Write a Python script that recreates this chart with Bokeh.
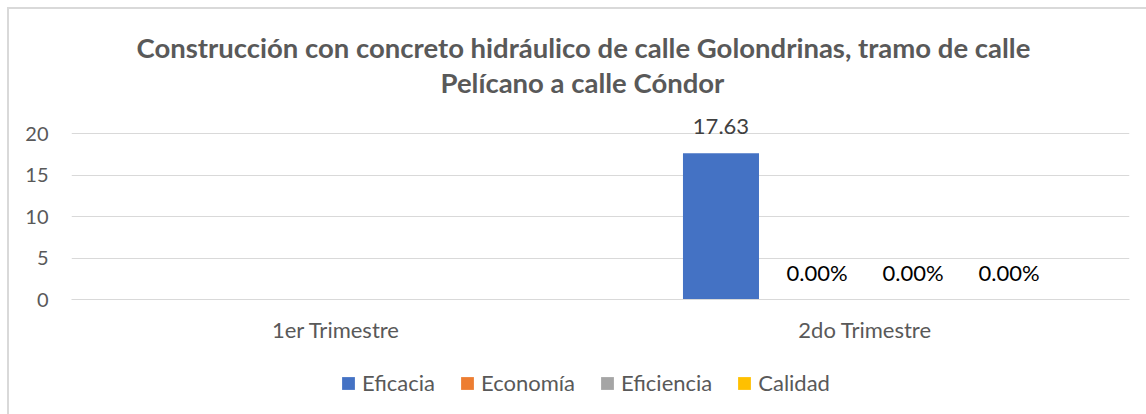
from bokeh.plotting import figure
from bokeh.models import (FactorRange, Range1d, ColumnDataSource, Legend,
                          LegendItem, FixedTicker, Title)
from bokeh.layouts import column
from bokeh.transform import dodge
from bokeh.core.properties import value
from bokeh.embed import file_html
from bokeh.resources import INLINE

# ---------------- data ----------------
categories = ["1er Trimestre", "2do Trimestre"]
series = ["Eficacia", "Economía", "Eficiencia", "Calidad"]
eficacia = [float("nan"), 17.63]
economia = [float("nan"), 0.0]
eficiencia = [float("nan"), 0.0]
calidad = [float("nan"), 0.0]
eficacia_labels = ["", "17.63"]
economia_labels = ["", "0.00%"]
eficiencia_labels = ["", "0.00%"]
calidad_labels = ["", "0.00%"]
y_ticks = [0, 5, 10, 15, 20]
title_lines = ["Construcción con concreto hidráulico de calle Golondrinas, tramo de calle",
               "Pelícano a calle Cóndor"]

colors = ["#4472C4", "#ED7D31", "#A5A5A5", "#FFC000"]
label_colors = ["#404040", "#000000", "#000000", "#000000"]

FONT = "Lato"
BORDER = "#D9D9D9"

W, H_MAIN, H_LEG = 1146, 370, 44
p = figure(width=W, height=H_MAIN, x_range=FactorRange(*categories), y_range=Range1d(0, 21.93),
           output_backend="svg", toolbar_location=None,
           min_border_left=71, min_border_right=17, min_border_top=117, min_border_bottom=71)
p.outline_line_color = None
p.background_fill_color = "white"
p.border_fill_alpha = 0
p.styles = {"background": f"linear-gradient({BORDER},{BORDER}) 7px 7px / 2px 100% no-repeat, "
                          f"linear-gradient({BORDER},{BORDER}) 7px 7px / 100% 2px no-repeat, white"}

src = ColumnDataSource(dict(cat=categories,
                            v0=eficacia, v1=economia, v2=eficiencia, v3=calidad,
                            l0=eficacia_labels, l1=economia_labels,
                            l2=eficiencia_labels, l3=calidad_labels))

slot = 0.1815
offsets = [-1.5 * slot, -0.5 * slot, 0.5 * slot, 1.5 * slot]
bar_w = 0.1437

for i, name in enumerate(series):
    p.vbar(x=dodge("cat", offsets[i], range=p.x_range), top=f"v{i}", width=bar_w,
           source=src, fill_color=colors[i], line_color=None)
    p.text(x=dodge("cat", offsets[i], range=p.x_range), y=f"v{i}", text=f"l{i}", source=src,
           text_align="center", text_baseline="alphabetic", y_offset=-27,
           text_font=value(FONT), text_font_size="22px", text_color=label_colors[i])

# axes
p.yaxis.ticker = FixedTicker(ticks=y_ticks)
p.yaxis.axis_line_color = None
p.yaxis.major_tick_line_color = None
p.yaxis.minor_tick_line_color = None
p.yaxis.major_label_text_font = FONT
p.yaxis.major_label_text_font_size = "20px"
p.yaxis.major_label_text_color = "#595959"
p.yaxis.major_label_standoff = 17

p.xaxis.axis_line_color = "#D9D9D9"
p.xaxis.major_tick_line_color = None
p.xaxis.minor_tick_line_color = None
p.xaxis.major_label_text_font = FONT
p.xaxis.major_label_text_font_size = "22px"
p.xaxis.major_label_text_color = "#595959"
p.xaxis.major_label_standoff = 10

p.xgrid.grid_line_color = None
p.ygrid.grid_line_color = "#D9D9D9"
p.ygrid.grid_line_width = 1

# spacer between frame and the title, then the two title lines
p.add_layout(Title(text=" ", text_font_size="1px", standoff=16), "above")
for txt, off, sto in [(title_lines[1], 369, 0), (title_lines[0], 65, 0)]:
    p.add_layout(Title(text=txt, align="left", offset=off, standoff=sto,
                       text_font=FONT, text_font_style="bold", text_font_size="27.5px",
                       text_color="#595959"), "above")

# legend strip (separate figure below the chart)
pl = figure(width=W, height=H_LEG, x_range=p.x_range, y_range=Range1d(100, 101),
            output_backend="svg", toolbar_location=None,
            x_axis_location=None, y_axis_location=None,
            min_border=0, min_border_left=0, min_border_right=0,
            min_border_top=0, min_border_bottom=0)
pl.outline_line_color = None
pl.grid.visible = False
pl.background_fill_alpha = 0
pl.border_fill_alpha = 0
pl.styles = {"background": f"linear-gradient({BORDER},{BORDER}) 7px 0px / 2px 100% no-repeat, white"}

items = []
for i, name in enumerate(series):
    r = pl.vbar(x=dodge("cat", offsets[i], range=pl.x_range), top=f"v{i}", width=bar_w,
                source=src, fill_color=colors[i], line_color=None)
    items.append(LegendItem(label=name, renderers=[r]))

legend = Legend(items=items, orientation="horizontal", location=(269, 18),
                glyph_width=16, glyph_height=16, label_standoff=6, spacing=24,
                padding=0, margin=0, border_line_color=None, background_fill_alpha=0,
                label_text_font=FONT, label_text_font_size="22px", label_text_color="#595959")
pl.add_layout(legend, "center")

layout = column(p, pl, spacing=0)
open("out.html", "w").write(file_html(layout, INLINE))
